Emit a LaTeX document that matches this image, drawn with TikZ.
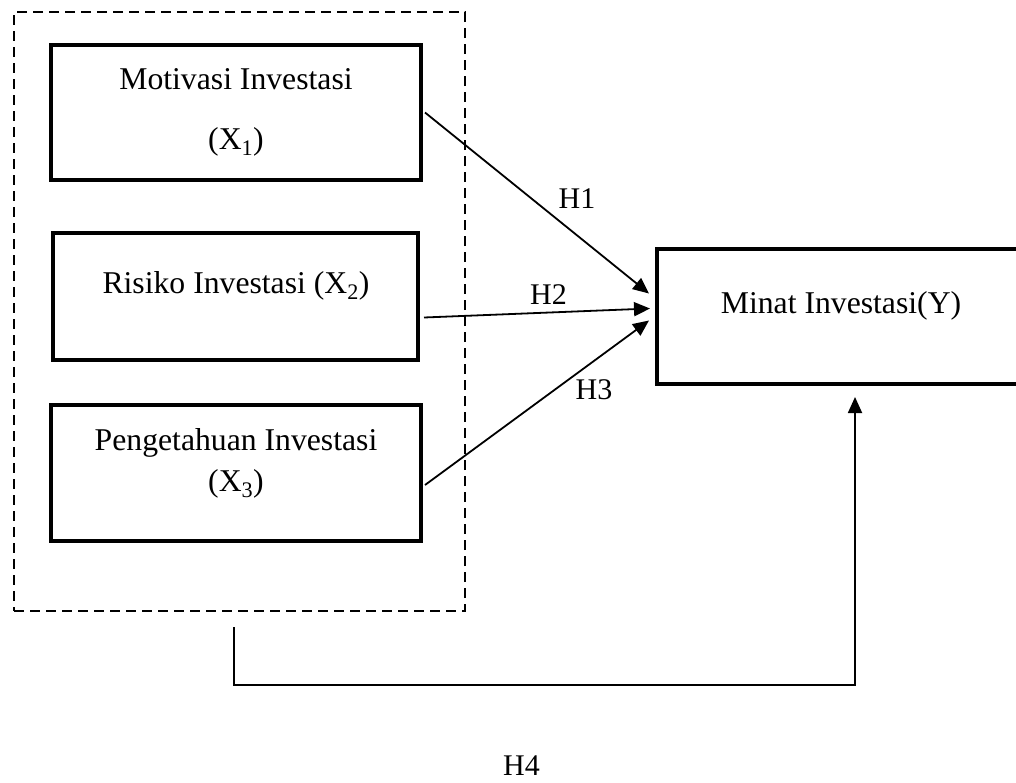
\documentclass[tikz,border=0pt]{standalone}
\usepackage{fontspec}
\setmainfont{Liberation Serif}
\usetikzlibrary{arrows.meta,calc}
\begin{document}
\begin{tikzpicture}[x=1pt,y=-1pt,
  varbox/.style={draw,line width=4pt,rectangle,inner sep=0pt},
  grpbox/.style={draw,line width=2pt,dash pattern=on 10pt off 6pt,rectangle,inner sep=0pt},
  txt/.style={font=\fontsize{31.7}{40}\selectfont,inner sep=0pt,align=center},
  hlab/.style={font=\fontsize{30}{36}\selectfont,inner sep=0pt},
  conn/.style={line width=1.8pt,-{Triangle[length=16pt,width=14pt]}}]
\clip (0,0) rectangle (1016,782);
\fill[white] (0,0) rectangle (1016,782);
% group box
\node[grpbox,minimum width=451pt,minimum height=599pt] (grp) at (239.5,311.5) {};
% variable boxes
\node[varbox,minimum width=370pt,minimum height=135pt] (x1) at (236,112.5) {};
\node[varbox,minimum width=365pt,minimum height=127pt] (x2) at (235.5,296.5) {};
\node[varbox,minimum width=370pt,minimum height=136pt] (x3) at (236,473) {};
\node[varbox,minimum width=370pt,minimum height=135pt] (y) at (842,316.5) {};
% texts
\node[txt] (t1a) at (236,79) {Motivasi Investasi};
\node[txt] (t1b) at (236,142) {(X\textsubscript{1})};
\node[txt] (t2) at (236,286) {Risiko Investasi (X\textsubscript{2})};
\node[txt] (t3a) at (236,443) {Pengetahuan Investasi};
\node[txt] (t3b) at (236,484) {(X\textsubscript{3})};
\node[txt] (ty) at (841,306) {Minat Investasi(Y)};
% hypothesis labels
\node[hlab] (h1) at (577,199) {H1};
\node[hlab] (h2) at (548.5,295) {H2};
\node[hlab] (h3) at (594,390) {H3};
\node[hlab] (h4) at (521.5,766) {H4};
% connector endpoints
\coordinate (s1) at ($(x1.east)+(2,0)$);
\coordinate (s2) at ($(x2.east)+(4,21)$);
\coordinate (s3) at ($(x3.east)+(2,12)$);
\coordinate (e1) at ($(y.west)+(-6,-23)$);
\coordinate (e2) at ($(y.west)+(-5,-8)$);
\coordinate (e3) at ($(y.west)+(-6,4)$);
\draw[conn] (s1) -- (e1);
\draw[conn] (s2) -- (e2);
\draw[conn] (s3) -- (e3);
% H4 bracket connector
\coordinate (b0) at ($(grp.south)+(-5.5,15)$);
\coordinate (b1) at (234,685);
\coordinate (b2) at (855,685);
\coordinate (bt) at (855,397);
\draw[line width=1.8pt,-{Triangle[length=16pt,width=14pt]}] (b0) -- (b1) -- (b2) -- (bt);
\end{tikzpicture}
\end{document}
